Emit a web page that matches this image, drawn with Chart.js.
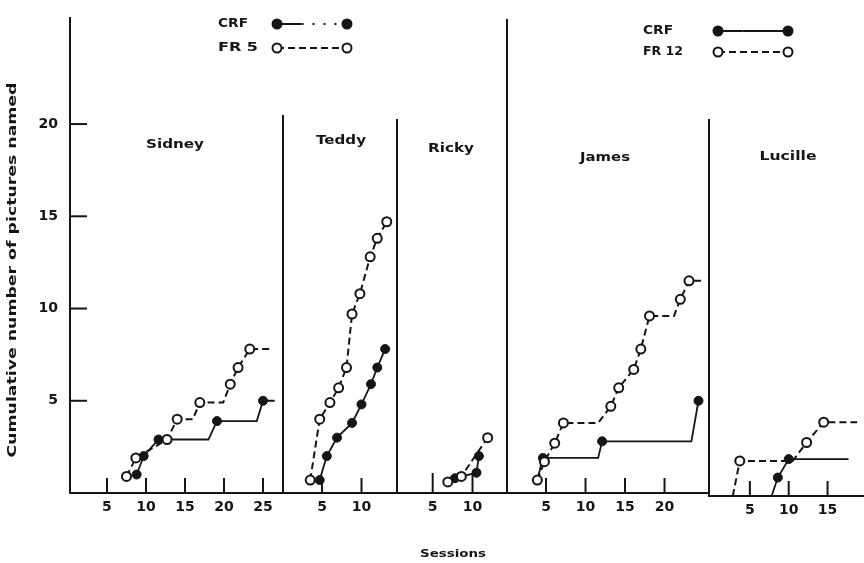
<!DOCTYPE html>
<html><head><meta charset="utf-8">
<script src="https://cdn.jsdelivr.net/npm/chart.js@4.4.0/dist/chart.umd.min.js"></script>
<style>
html,body{margin:0;padding:0;background:#fff;}
#wrap{position:relative;width:864px;height:563px;overflow:hidden;}
#wrap canvas{position:absolute;left:0;top:0;}
</style></head><body>
<div id="wrap">
<canvas id="c0" width="864" height="563"></canvas>
<canvas id="c1" width="864" height="563"></canvas>
<canvas id="c2" width="864" height="563"></canvas>
<canvas id="c3" width="864" height="563"></canvas>
<canvas id="c4" width="864" height="563"></canvas>
</div>
<script>
// ---------- data ----------
const subjects = ['Sidney', 'Teddy', 'Ricky', 'James', 'Lucille'];
const yAxisTitle = 'Cumulative number of pictures named';
const xAxisTitle = 'Sessions';
const yTickValues = [5, 10, 15, 20];

const sidneyTicks = [5, 10, 15, 20, 25];
const sidneyCrfSessions = [8.8, 9.7, 11.6, 18, 19.1, 24.2, 25, 26.5];
const sidneyCrfValues   = [1, 2, 2.9, 2.9, 3.9, 3.9, 5, 5];
const sidneyFr5Sessions = [7.5, 8.7, 12.7, 14, 16, 16.9, 19.9, 20.8, 21.8, 23.3, 26.1];
const sidneyFr5Values   = [0.9, 1.9, 2.9, 4, 4, 4.9, 4.9, 5.9, 6.8, 7.8, 7.8];

const teddyTicks = [5, 10];
const teddyCrfSessions = [4.7, 5.6, 6.9, 8.8, 10, 11.2, 12, 13];
const teddyCrfValues   = [0.7, 2, 3, 3.8, 4.8, 5.9, 6.8, 7.8];
const teddyFr5Sessions = [3.5, 4.7, 6, 7.1, 8.1, 8.8, 9.8, 11.1, 12, 13.2];
const teddyFr5Values   = [0.7, 4, 4.9, 5.7, 6.8, 9.7, 10.8, 12.8, 13.8, 14.7];

const rickyTicks = [5, 10];
const rickyCrfSessions = [7.8, 10.5, 10.8];
const rickyCrfValues   = [0.8, 1.1, 2];
const rickyFr5Sessions = [6.9, 8.6, 11.9];
const rickyFr5Values   = [0.6, 0.9, 3];

const jamesTicks = [5, 10, 15, 20];
const jamesCrfSessions  = [3.9, 4.6, 11.6, 12.1, 23.4, 24.3];
const jamesCrfValues    = [0.7, 1.9, 1.9, 2.8, 2.8, 5];
const jamesFr12Sessions = [3.9, 4.8, 6.1, 7.2, 11.6, 13.2, 14.2, 16.1, 17, 18.1, 21.2, 22, 23.1, 24.9];
const jamesFr12Values   = [0.7, 1.7, 2.7, 3.8, 3.8, 4.7, 5.7, 6.7, 7.8, 9.6, 9.6, 10.5, 11.5, 11.5];

const lucilleTicks = [5, 10, 15];
const lucilleCrfSessions  = [7.8, 8.6, 10, 17.7];
const lucilleCrfValues    = [0, 1, 2, 2];
const lucilleFr12Sessions = [2.8, 3.7, 10.5, 12.3, 14.5, 18.8];
const lucilleFr12Values   = [0, 1.9, 1.9, 2.9, 4, 4];

const legendA = ['CRF', 'FR 5'];
const legendB = ['CRF', 'FR 12'];

// ---------- helpers ----------
const INK = '#151515';
const FONT = "'DejaVu Sans', 'Liberation Sans', sans-serif";
const X_AXIS_H = 40, Y_AXIS_W = 60;
function pts(s, v) { return s.map((x, i) => ({ x: x, y: v[i] })); }
// a marker is drawn where the cumulative count rises
function markerRadius(ctx) {
  const d = ctx.dataset.data, i = ctx.dataIndex;
  const prev = i > 0 ? d[i - 1].y : 0;
  return d[i].y > prev ? 4.5 : 0;
}
function stretchText(ctx, text, x, y, font, width, rot) {
  ctx.save();
  ctx.font = font;
  ctx.fillStyle = INK;
  ctx.textAlign = 'center';
  ctx.textBaseline = 'middle';
  const w = ctx.measureText(text).width;
  ctx.translate(x, y);
  if (rot) ctx.rotate(rot);
  ctx.scale(width / w, 1);
  ctx.fillText(text, 0, 0);
  ctx.restore();
}
function dot(ctx, x, y, filled) {
  ctx.save();
  ctx.beginPath();
  ctx.arc(x, y, 4.5, 0, Math.PI * 2);
  ctx.fillStyle = filled ? INK : '#fff';
  ctx.fill();
  ctx.lineWidth = 2;
  ctx.strokeStyle = INK;
  ctx.stroke();
  ctx.restore();
}
function seg(ctx, x1, y1, x2, y2, dash, w) {
  ctx.save();
  ctx.beginPath();
  ctx.setLineDash(dash || []);
  ctx.lineWidth = w || 2;
  ctx.strokeStyle = INK;
  ctx.moveTo(x1, y1); ctx.lineTo(x2, y2);
  ctx.stroke();
  ctx.restore();
}
function legend(ctx, labels, x, x1, x2, y1, y2, crfDash) {
  stretchText(ctx, labels[0], x + 15, y1, 'bold 12px ' + FONT, 30);
  stretchText(ctx, labels[1], x + 20, y2, 'bold 12px ' + FONT, 40);
  seg(ctx, x1, y1, x1 + (x2 - x1) * 0.35, y1, [], 2);
  seg(ctx, x1 + (x2 - x1) * 0.35, y1, x2, y1, crfDash, 2);
  dot(ctx, x1, y1, true); dot(ctx, x2, y1, true);
  seg(ctx, x1, y2, x2, y2, [7, 4], 2);
  dot(ctx, x1, y2, false); dot(ctx, x2, y2, false);
}

function makePanel(idx, box, xr, yMax, xTicks, crfS, crfV, frS, frV, extra) {
  const yW = box.showY ? Y_AXIS_W : 0;
  const decor = {
    id: 'decor' + idx,
    afterDraw(chart) {
      const ctx = chart.ctx, a = chart.chartArea;
      const xs = chart.scales.x, ys = chart.scales.y;
      ctx.save();
      ctx.strokeStyle = INK; ctx.lineWidth = 2;
      xs.ticks.forEach(t => {
        const px = xs.getPixelForValue(t.value);
        ctx.beginPath(); ctx.moveTo(px, a.bottom); ctx.lineTo(px, a.bottom - (box.tickLen || 15)); ctx.stroke();
      });
      if (box.showY) {
        ys.ticks.forEach(t => {
          const py = ys.getPixelForValue(t.value);
          ctx.beginPath(); ctx.moveTo(a.left, py); ctx.lineTo(a.left + 17, py); ctx.stroke();
        });
      }
      ctx.restore();
      stretchText(ctx, subjects[idx], box.nameX, box.nameY, 'bold 13px ' + FONT, box.nameW);
      if (extra) extra(ctx);
    }
  };
  return new Chart(document.getElementById('c' + idx), {
    type: 'line',
    data: {
      datasets: [
        { data: pts(frS, frV), borderColor: INK, borderWidth: 2, borderDash: [7, 4],
          pointRadius: markerRadius, pointBackgroundColor: '#fff', pointBorderColor: INK,
          pointBorderWidth: 2, tension: 0, fill: false },
        { data: pts(crfS, crfV), borderColor: INK, borderWidth: 1.8,
          pointRadius: markerRadius, pointBackgroundColor: INK, pointBorderColor: INK,
          pointBorderWidth: 1, tension: 0, fill: false }
      ]
    },
    options: {
      responsive: false, animation: false, devicePixelRatio: 1, events: [],
      layout: { padding: { left: box.left - yW, right: 864 - box.right, top: box.top, bottom: 563 - box.bottom - X_AXIS_H } },
      plugins: { legend: { display: false }, tooltip: { enabled: false } },
      scales: {
        x: {
          type: 'linear', min: xr[0], max: xr[1],
          afterBuildTicks: s => { s.ticks = xTicks.map(v => ({ value: v })); },
          afterFit: s => { s.height = X_AXIS_H; s.paddingLeft = 0; s.paddingRight = 0; },
          grid: { display: false, drawTicks: false },
          border: { display: true, color: INK, width: 2 },
          ticks: { color: INK, padding: 6, autoSkip: false, maxRotation: 0, font: { family: FONT, size: 14, weight: 'bold' } }
        },
        y: {
          type: 'linear', min: 0, max: yMax,
          afterBuildTicks: s => { s.ticks = yTickValues.map(v => ({ value: v })); },
          afterFit: s => { s.width = yW; s.paddingTop = 0; s.paddingBottom = 0; },
          grid: { display: false, drawTicks: false },
          border: { display: true, color: INK, width: 2 },
          ticks: { display: !!box.showY, autoSkip: false, color: INK, padding: 12, font: { family: FONT, size: 14, weight: 'bold' } }
        }
      }
    },
    plugins: [decor]
  });
}

// Sidney (with y axis, y title and first legend)
makePanel(0, { left: 70, right: 283, top: 18, bottom: 493, showY: true, nameX: 175, nameY: 145, nameW: 58 },
  [0.26, 27.56], 25.75, sidneyTicks, sidneyCrfSessions, sidneyCrfValues, sidneyFr5Sessions, sidneyFr5Values,
  ctx => {
    stretchText(ctx, yAxisTitle, 13, 270, 'bold 12px ' + FONT, 375, -Math.PI / 2);
    legend(ctx, legendA, 218, 277, 347, 24, 48, [2, 9]);
  });
// Teddy
makePanel(1, { left: 283, right: 397, top: 116, bottom: 493, nameX: 341, nameY: 141, nameW: 50 },
  [0.05, 14.5], 20.43, teddyTicks, teddyCrfSessions, teddyCrfValues, teddyFr5Sessions, teddyFr5Values);
// Ricky (carries the x title)
makePanel(2, { left: 397, right: 507, top: 120, bottom: 493, nameX: 451, nameY: 149, nameW: 46, tickLen: 20 },
  [0.52, 14.33], 20.22, rickyTicks, rickyCrfSessions, rickyCrfValues, rickyFr5Sessions, rickyFr5Values,
  ctx => { stretchText(ctx, xAxisTitle, 453, 554, 'bold 10px ' + FONT, 66); });
// James (second legend)
makePanel(3, { left: 507, right: 709, top: 20, bottom: 493, nameX: 605, nameY: 158, nameW: 50 },
  [0.06, 25.63], 25.64, jamesTicks, jamesCrfSessions, jamesCrfValues, jamesFr12Sessions, jamesFr12Values,
  ctx => { legend(ctx, legendB, 643, 718, 788, 31, 52, []); });
// Lucille
makePanel(4, { left: 709, right: 864, top: 120, bottom: 496, nameX: 788, nameY: 157, nameW: 57 },
  [-0.26, 19.69], 20.38, lucilleTicks, lucilleCrfSessions, lucilleCrfValues, lucilleFr12Sessions, lucilleFr12Values);
</script>
</body></html>
